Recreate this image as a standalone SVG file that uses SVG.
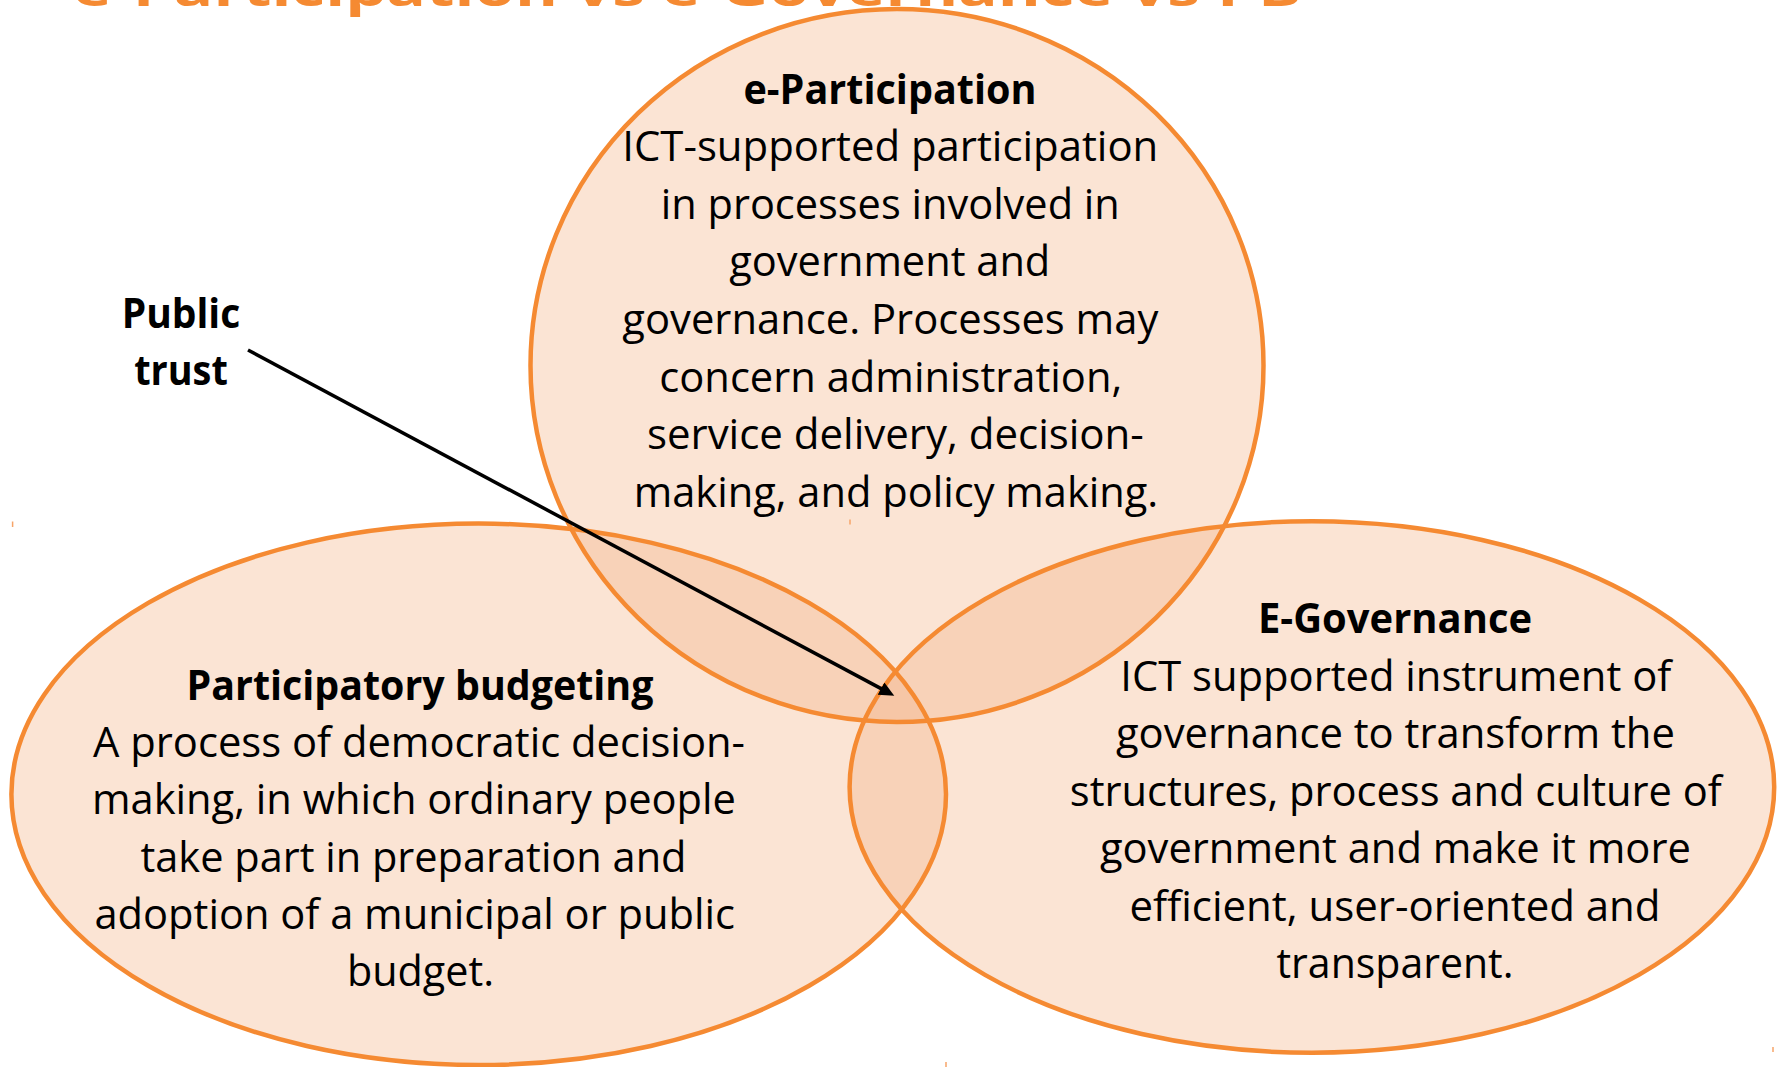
<svg xmlns="http://www.w3.org/2000/svg" width="1781" height="1067" viewBox="0 0 1781 1067">
  <style>
    .bubble { fill: #F4B183; fill-opacity: 0.35; stroke: none; }
    .rim { fill: none; stroke: #F58A32; stroke-width: 4.5; }
    .tick { stroke: #F7A468; stroke-width: 1.5; }
    .body { font-family: "Open Sans", "Noto Sans", "Liberation Sans", sans-serif; font-size: 42px; fill: #000; text-anchor: middle; }
    .head { font-weight: 700; }
    .title { font-family: "Open Sans", "Noto Sans", "Liberation Sans", sans-serif; font-size: 46px; font-weight: 700; fill: #F58A32; }
    .link { stroke: #000; stroke-width: 3.5; fill: none; }
  </style>
  <defs>
    <marker id="head" markerUnits="userSpaceOnUse" markerWidth="16" markerHeight="15" refX="7" refY="7" orient="auto">
      <path d="M0,0 L15,7 L0,14 z" fill="#000"/>
    </marker>
  </defs>

  <rect width="1781" height="1067" fill="#fff"/>

  <!-- slide heading, cut off by the top edge -->
  <text class="title" x="73" y="6" textLength="1229" lengthAdjust="spacingAndGlyphs">e-Participation vs e-Governance vs PB</text>

  <g id="e-participation">
    <ellipse class="bubble" cx="897" cy="365.5" rx="366.5" ry="356.5"/>
    <text class="body head" x="890" y="103.6" textLength="293" lengthAdjust="spacingAndGlyphs">e-Participation</text>
    <text class="body" x="890.3" y="161.2" textLength="536" lengthAdjust="spacingAndGlyphs">ICT-supported participation</text>
    <text class="body" x="890.3" y="218.8" textLength="459" lengthAdjust="spacingAndGlyphs">in processes involved in</text>
    <text class="body" x="889.8" y="276.4" textLength="321" lengthAdjust="spacingAndGlyphs">government and</text>
    <text class="body" x="890.3" y="334" textLength="536" lengthAdjust="spacingAndGlyphs">governance. Processes may</text>
    <text class="body" x="890.8" y="391.6" textLength="463" lengthAdjust="spacingAndGlyphs">concern administration,</text>
    <text class="body" x="895.4" y="449.2" textLength="497" lengthAdjust="spacingAndGlyphs">service delivery, decision-</text>
    <text class="body" x="896" y="506.8" textLength="524.5" lengthAdjust="spacingAndGlyphs">making, and policy making.</text>
  </g>

  <g id="participatory-budgeting">
    <ellipse class="bubble" cx="478.7" cy="794.3" rx="467.3" ry="270.7"/>
    <text class="body head" x="420" y="700" textLength="467" lengthAdjust="spacingAndGlyphs">Participatory budgeting</text>
    <text class="body" x="419" y="757.2" textLength="652" lengthAdjust="spacingAndGlyphs">A process of democratic decision-</text>
    <text class="body" x="414" y="814.4" textLength="644" lengthAdjust="spacingAndGlyphs">making, in which ordinary people</text>
    <text class="body" x="413.5" y="871.6" textLength="546" lengthAdjust="spacingAndGlyphs">take part in preparation and</text>
    <text class="body" x="414.7" y="928.8" textLength="640.5" lengthAdjust="spacingAndGlyphs">adoption of a municipal or public</text>
    <text class="body" x="420.5" y="986" textLength="147" lengthAdjust="spacingAndGlyphs">budget.</text>
  </g>

  <g id="e-governance">
    <ellipse class="bubble" cx="1311.9" cy="787" rx="462.3" ry="265.7"/>
    <text class="body head" x="1395" y="633.3" textLength="274" lengthAdjust="spacingAndGlyphs">E-Governance</text>
    <text class="body" x="1395.8" y="690.8" textLength="551" lengthAdjust="spacingAndGlyphs">ICT supported instrument of</text>
    <text class="body" x="1395.4" y="748.3" textLength="559" lengthAdjust="spacingAndGlyphs">governance to transform the</text>
    <text class="body" x="1395.8" y="805.8" textLength="652" lengthAdjust="spacingAndGlyphs">structures, process and culture of</text>
    <text class="body" x="1395.4" y="863.3" textLength="591" lengthAdjust="spacingAndGlyphs">government and make it more</text>
    <text class="body" x="1395" y="920.8" textLength="531" lengthAdjust="spacingAndGlyphs">efficient, user-oriented and</text>
    <text class="body" x="1395" y="978.3" textLength="237" lengthAdjust="spacingAndGlyphs">transparent.</text>
  </g>

  <!-- circle outlines, drawn above all three washes -->
  <g id="outlines">
    <ellipse class="rim" cx="897" cy="365.5" rx="366.5" ry="356.5"/>
    <ellipse class="rim" cx="478.7" cy="794.3" rx="467.3" ry="270.7"/>
    <ellipse class="rim" cx="1311.9" cy="787" rx="462.3" ry="265.7"/>
  </g>

  <!-- small corner handles left on the shapes -->
  <g id="handles">
    <line class="tick" x1="12.6" y1="521.5" x2="12.6" y2="527"/>
    <line class="tick" x1="850" y1="519.5" x2="850" y2="524.5"/>
    <line class="tick" x1="946" y1="1062" x2="946" y2="1067"/>
    <line class="tick" x1="1773" y1="1047" x2="1773" y2="1052"/>
  </g>

  <g id="public-trust">
    <text class="body head" x="181" y="328.3" textLength="118.6" lengthAdjust="spacingAndGlyphs">Public</text>
    <text class="body head" x="181" y="385" textLength="93.7" lengthAdjust="spacingAndGlyphs">trust</text>
  </g>

  <g id="connectors">
    <line class="link" x1="248" y1="350" x2="887.2" y2="691.9" marker-end="url(#head)"/>
  </g>
</svg>
